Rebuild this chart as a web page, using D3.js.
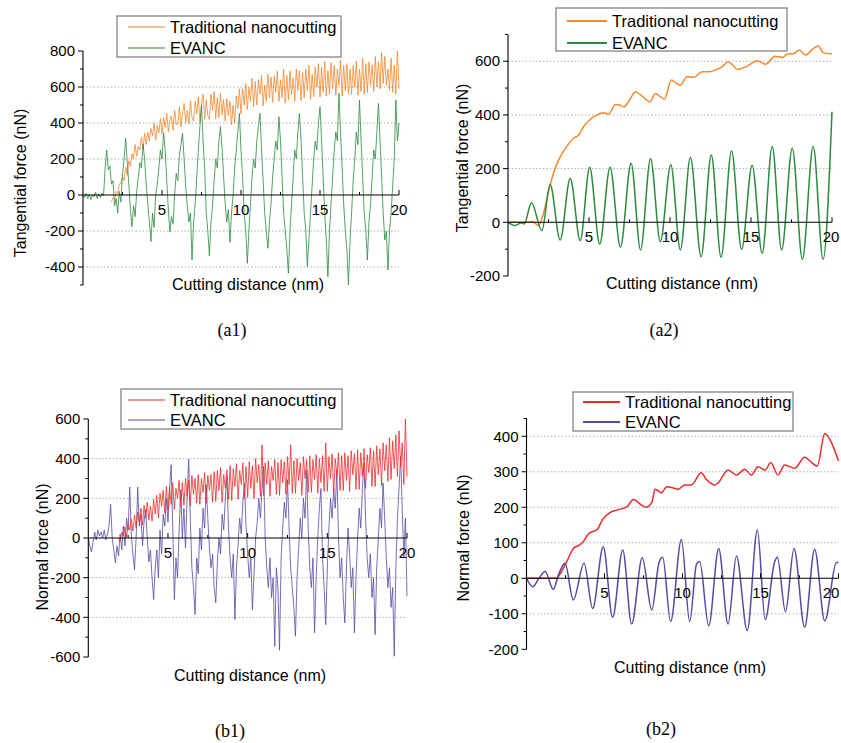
<!DOCTYPE html>
<html>
<head>
<meta charset="utf-8">
<script src="https://cdn.jsdelivr.net/npm/d3@7"></script>
<style>
  body { margin: 0; background: #fff; }
  svg { display: block; font-family: "Liberation Sans", Arial, sans-serif; }
</style>
</head>
<body>
<script>
// ---- (a1) raw tangential force, sampled every 0.1 nm ----
const a1TradStart = 1.8;
const a1Trad = [-40, -15,
  -25, 20, 5, 60, 65, 100, 80, 155, 110, 190,
  160, 230, 200, 280, 215, 270, 250, 320, 255, 345,
  280, 350, 300, 370, 330, 400, 305, 385, 345, 425,
  340, 430, 375, 455, 350, 420, 440, 360, 470, 390,
  395, 490, 380, 455, 510, 400, 470, 395, 525, 430,
  410, 520, 450, 545, 405, 500, 560, 420, 530, 440,
  420, 560, 470, 575, 425, 540, 430, 565, 445, 530,
  410, 535, 440, 520, 390, 500, 400, 550, 480, 590,
  450, 590, 500, 620, 475, 600, 520, 650, 490, 630,
  500, 640, 560, 665, 495, 610, 520, 670, 540, 655,
  515, 660, 570, 690, 520, 640, 540, 700, 510, 665,
  530, 690, 560, 650, 520, 700, 580, 690, 525, 680,
  540, 700, 580, 720, 530, 670, 545, 710, 600, 730,
  545, 710, 570, 740, 550, 690, 560, 735, 590, 720,
  555, 700, 610, 750, 550, 720, 580, 730, 560, 700,
  560, 720, 600, 745, 555, 700, 575, 760, 560, 730,
  570, 740, 610, 720, 575, 770, 600, 740, 590, 790,
  620, 770, 610, 700, 580, 760, 570, 720, 560, 800,
  590];
const a1Evanc = [
  0, -15, 10, -20, 5, -25, 0, -10, 15, -20,
  5, -15, 10, -5, 150, 250, 140, 160, 60, 80,
  -60, -20, -100, 20, -40, 120, 200, 315, 180, 60,
  -80, -176, -60, -120, 20, 100, 180, 150, 283, 200,
  60, -50, -150, -259, -100, -180, 0, 60, 150, 250,
  200, 346, 250, 80, -80, -204, -120, -160, 0, 120,
  80, 220, 280, 343, 200, 50, -60, -150, -100, -361,
  -150, -50, 100, 250, 380, 500, 300, 150, -100, -200,
  -339, -150, -60, 80, 200, 150, 300, 380, 260, 100,
  -50, -150, -80, -263, -100, 0, 150, 250, 350, 454,
  250, 100, -100, -200, -380, -200, -50, 100, 200, 150,
  300, 380, 454, 250, 80, -100, -200, -296, -150, -50,
  100, 200, 300, 250, 435, 300, 100, -100, -200, -300,
  -435, -200, -50, 100, 250, 200, 350, 454, 300, 100,
  -100, -200, -398, -250, -100, 50, 200, 300, 250, 400,
  491, 300, 100, -100, -250, -454, -200, -50, 100, 250,
  350, 300, 565, 350, 150, -50, -200, -300, -500, -250,
  -100, 80, 200, 350, 280, 528, 300, 100, -100, -200,
  -361, -150, -50, 100, 250, 200, 350, 509, 300, 100,
  -100, -250, -200, -417, -200, -100, 50, 200, 528, 300,
  400];

// ---- (a2) filtered tangential force: distance / force pairs ----
const a2TradX = [0, 1.2, 1.5, 1.88, 2.19, 2.6, 2.91, 3.22, 3.64, 4.05, 4.36, 4.66, 5.04, 5.49, 5.9, 6.21, 6.63, 6.9, 7.15, 7.46, 7.87, 8.28, 8.75, 9.11, 9.42, 9.66, 10.08, 10.3, 10.64, 11.05, 11.46, 11.98, 12.4, 12.8, 13.22, 13.59, 13.8, 14.15, 14.77, 15.39, 15.9, 16.48, 16.94, 17.25, 17.66, 17.97, 18.38, 18.8, 19.16, 19.45, 20];
const a2TradY = [0, 0, 3, -12, 33, 138, 201, 244, 284, 313, 325, 356, 381, 400, 408, 403, 439, 437, 430, 452, 486, 470, 449, 480, 467, 459, 530, 522, 511, 542, 540, 561, 561, 567, 580, 598, 590, 570, 582, 602, 589, 619, 614, 627, 629, 642, 623, 645, 657, 632, 627];
const a2EvancX = [0, 0.43, 0.85, 1.0, 1.45, 2.09, 2.6, 3.22, 3.84, 4.46, 5.04, 5.66, 6.3, 6.94, 7.6, 8.18, 8.8, 9.4, 10.05, 10.64, 11.26, 11.92, 12.55, 13.15, 13.8, 14.42, 15.07, 15.69, 16.31, 16.89, 17.55, 18.17, 18.84, 19.45, 20];
const a2EvancY = [0, -12, -2, -6, 73, -31, 141, -66, 164, -68, 205, -81, 205, -93, 220, -103, 238, -72, 214, -103, 241, -128, 251, -130, 266, -101, 213, -116, 282, -103, 276, -138, 282, -138, 412];

// ---- (b1) raw normal force, sampled every 0.1 nm ----
const b1TradStart = 1.9;
const b1Trad = [0,
  -15, 30, 10, 55, 5, 70, 40, 95, 35, 115,
  50, 130, 80, 150, 65, 165, 100, 180, 90, 160,
  85, 195, 120, 215, 100, 225, 160, 240, 125, 260,
  140, 255, 170, 280, 145, 250, 200, 290, 155, 280,
  165, 300, 210, 290, 160, 315, 220, 300, 175, 320,
  170, 300, 230, 330, 175, 315, 240, 320, 180, 335,
  185, 340, 240, 355, 180, 320, 250, 345, 195, 365,
  190, 350, 260, 375, 195, 340, 270, 380, 200, 360,
  205, 385, 250, 365, 200, 400, 280, 370, 210, 470,
  215, 380, 270, 390, 210, 360, 290, 395, 220, 380,
  215, 395, 280, 385, 220, 410, 270, 470, 225, 390,
  225, 400, 290, 380, 215, 410, 300, 395, 230, 415,
  230, 395, 295, 420, 225, 400, 280, 415, 235, 480,
  235, 410, 300, 425, 230, 400, 310, 430, 240, 415,
  240, 430, 290, 415, 235, 440, 320, 425, 245, 445,
  245, 430, 310, 450, 250, 420, 330, 455, 260, 440,
  260, 465, 320, 450, 265, 480, 340, 470, 285, 505,
  295, 490, 350, 520, 310, 540, 360, 480, 270, 600,
  310];
const b1Evanc = [
  0, -40, -70, -20, 30, -10, 40, 10, 30, 0,
  40, -10, 20, 60, 170, 0, -60, -126, -40, -90,
  20, -60, 60, -40, 100, 40, 257, 20, -80, -160,
  0, 257, 60, 120, -40, 80, 143, 0, -120, -60,
  -200, -310, -150, -60, -200, 40, -80, 120, 60, 200,
  80, 250, 370, 50, -310, -100, -200, 40, 243, 0,
  150, -50, 200, 398, 100, -150, -250, -386, -100, -180,
  50, -60, 150, 50, 269, 100, -50, -150, -80, -250,
  -327, -120, 0, -80, 120, 40, 200, 311, 50, -100,
  -200, -80, -411, -150, -30, 100, 20, 180, 277, 60,
  -80, -200, -100, -361, -180, 0, 80, 200, 100, 250,
  361, 0, -150, -250, -100, -300, -200, -546, -150, -250,
  -566, -100, 50, 180, 100, 294, 50, -150, -250, -350,
  -495, -200, -50, 100, 0, 200, 100, 344, 50, -150,
  -250, -100, -478, -200, 0, 150, 250, -100, -250, -437,
  -150, 50, 200, 100, 250, 150, 344, 0, -200, -100,
  -300, -428, -150, 50, -80, -250, -150, -478, -200, 0,
  150, 50, 250, 378, 100, -100, -200, -80, -300, -200,
  -487, -150, 0, 150, 50, 277, 100, -100, -250, -150,
  -350, -250, -596, -150, 100, 250, 411, 150, -100, 100,
  -294];

// ---- (b2) filtered normal force: distance / force pairs ----
const b2TradX = [0, 1.9, 2.15, 2.58, 3.0, 3.4, 3.64, 3.96, 4.54, 4.88, 5.35, 5.77, 6.2, 6.45, 6.85, 7.38, 7.65, 8.03, 8.24, 8.66, 8.99, 9.42, 9.74, 10.14, 10.57, 11.2, 11.52, 12.06, 12.27, 12.92, 13.46, 13.99, 14.42, 14.84, 15.31, 15.65, 16.12, 16.55, 17.2, 17.83, 18.15, 18.64, 19.12, 19.55, 20];
const b2TradY = [0, 0, 12, 47, 84, 94, 103, 125, 138, 166, 185, 192, 197, 202, 222, 206, 200, 213, 251, 241, 258, 254, 251, 263, 263, 297, 279, 263, 268, 305, 291, 307, 291, 314, 305, 326, 291, 319, 310, 341, 331, 316, 408, 382, 330];
const b2EvancX = [0, 0.4, 0.8, 1.19, 1.72, 2.05, 2.47, 3.0, 3.69, 4.24, 4.92, 5.52, 6.17, 6.74, 7.42, 8.03, 8.5, 8.73, 9.24, 9.93, 10.46, 10.9, 11.1, 11.68, 12.32, 12.92, 13.46, 14.15, 14.8, 15.3, 15.9, 16.08, 16.6, 17.15, 17.83, 18.47, 19.12, 19.86, 20];
const b2EvancY = [0, -24, 0, 19, -31, 10, 42, -61, 42, -85, 89, -110, 80, -129, 58, -89, 45, 59, -122, 109, -122, 40, 47, -134, 84, -129, 63, -147, 136, -116, 45, 59, -94, 84, -138, 82, -120, 44, 45];

const legendNames = ["Traditional nanocutting", "EVANC"];
const xTicks = [5, 10, 15, 20];

const orange = "#f6872d";
const green = "#2b8a3e";
const red = "#ee2b2b";
const purple = "#5c46a6";

const sampled = (start, vals) => vals.map((v, i) => [start + i * 0.1, v]);
const paired = (xs, ys) => xs.map((d, i) => [d, ys[i]]);

const W = 841;
const H = 743;

let svg = d3
  .select("body")
  .append("svg")
  .attr("width", W)
  .attr("height", H);

function drawPanel(p) {
  let x = d3.scaleLinear().domain([0, 20]).range([p.left, p.right]);
  let y = d3.scaleLinear().domain(p.yDomain).range([p.bottom, p.top]);
  let g = svg.append("g");
  const [lo, hi] = p.yDomain;

  let majors = d3.range(Math.ceil(lo / p.step) * p.step, hi + 1e-6, p.step);
  let minors = d3
    .range(Math.ceil(lo / p.minor) * p.minor, hi + 1e-6, p.minor)
    .filter((v) => Math.abs(v / p.step - Math.round(v / p.step)) > 1e-6);

  // dotted grid at the inner major ticks
  g.selectAll(".grid")
    .data(majors.filter((v) => v !== 0 && v !== lo && v !== hi))
    .enter()
    .append("line")
    .attr("x1", x(0))
    .attr("x2", x(20))
    .attr("y1", (d) => y(d))
    .attr("y2", (d) => y(d))
    .attr("stroke", "#9a9a9a")
    .attr("stroke-width", 0.8)
    .attr("stroke-dasharray", "1.5,2");

  let line = d3
    .line()
    .x((d) => x(d[0]))
    .y((d) => y(d[1]))
    .curve(p.curve);

  p.series.forEach((s) => {
    g.append("path")
      .attr("d", line(s.data))
      .attr("fill", "none")
      .attr("stroke", s.color)
      .attr("stroke-width", p.lineWidth)
      .attr("stroke-linejoin", "round");
  });

  // x axis along zero
  g.append("line")
    .attr("x1", x(0))
    .attr("x2", x(20))
    .attr("y1", y(0))
    .attr("y2", y(0))
    .attr("stroke", "#000")
    .attr("stroke-width", 1.1);
  g.selectAll(".xt")
    .data(d3.range(2.5, 20.01, 2.5))
    .enter()
    .append("line")
    .attr("x1", (d) => x(d))
    .attr("x2", (d) => x(d))
    .attr("y1", y(0))
    .attr("y2", (d) => y(0) - (d % 5 === 0 ? 5 : 3))
    .attr("stroke", "#000");
  // keep the last label inside the page
  g.selectAll(".xl")
    .data(xTicks)
    .enter()
    .append("text")
    .attr("x", (d) => Math.min(x(d), W - 10))
    .attr("y", y(0) + 20)
    .attr("text-anchor", "middle")
    .attr("font-size", 15)
    .text((d) => d);

  // y axis
  g.append("line")
    .attr("x1", x(0))
    .attr("x2", x(0))
    .attr("y1", y(lo))
    .attr("y2", y(hi))
    .attr("stroke", "#000")
    .attr("stroke-width", 1.1);
  g.selectAll(".ymaj")
    .data(majors)
    .enter()
    .append("line")
    .attr("x1", x(0) - 5)
    .attr("x2", x(0))
    .attr("y1", (d) => y(d))
    .attr("y2", (d) => y(d))
    .attr("stroke", "#000");
  g.selectAll(".ymin")
    .data(minors)
    .enter()
    .append("line")
    .attr("x1", x(0) - 3)
    .attr("x2", x(0))
    .attr("y1", (d) => y(d))
    .attr("y2", (d) => y(d))
    .attr("stroke", "#000");
  g.selectAll(".yl")
    .data(majors)
    .enter()
    .append("text")
    .attr("x", x(0) - 8)
    .attr("y", (d) => y(d))
    .attr("dy", "0.35em")
    .attr("text-anchor", "end")
    .attr("font-size", 15)
    .text((d) => d);

  g.append("text")
    .attr("transform", `translate(${p.yTitle[0]},${p.yTitle[1]}) rotate(-90)`)
    .attr("dy", "0.35em")
    .attr("text-anchor", "middle")
    .attr("font-size", 16)
    .text(p.yLabel);
  g.append("text")
    .attr("x", p.xTitle[0])
    .attr("y", p.xTitle[1])
    .attr("text-anchor", "middle")
    .attr("font-size", 16)
    .text("Cutting distance (nm)");

  // legend
  let lg = g.append("g");
  lg.append("rect")
    .attr("x", p.legend.x)
    .attr("y", p.legend.y)
    .attr("width", p.legend.w)
    .attr("height", p.legend.h)
    .attr("fill", "#fff")
    .attr("stroke", "#7a7a7a")
    .attr("stroke-width", 1.2);
  legendNames.forEach((name, i) => {
    let ry = p.legend.rows[i];
    lg.append("line")
      .attr("x1", p.legend.l1)
      .attr("x2", p.legend.l2)
      .attr("y1", ry)
      .attr("y2", ry)
      .attr("stroke", p.legendColors[i])
      .attr("stroke-width", p.legendWidth);
    lg.append("text")
      .attr("x", p.legend.tx)
      .attr("y", ry)
      .attr("dy", "0.36em")
      .attr("font-size", 16.5)
      .text(name);
  });

  svg.append("text")
    .attr("x", p.caption[0])
    .attr("y", p.caption[1])
    .attr("text-anchor", "middle")
    .attr("font-family", "'Liberation Serif', 'Times New Roman', serif")
    .attr("font-size", 18)
    .text(p.name);
}

drawPanel({
  name: "(a1)",
  left: 83, right: 399, top: 51, bottom: 285,
  yDomain: [-500, 800], step: 200, minor: 100,
  curve: d3.curveLinear, lineWidth: 0.8, legendWidth: 1.2,
  series: [
    { data: sampled(a1TradStart, a1Trad), color: orange },
    { data: sampled(0, a1Evanc), color: green },
  ],
  legendColors: [orange, green],
  yLabel: "Tangential force (nN)",
  yTitle: [20, 183], xTitle: [248, 290],
  legend: { x: 117, y: 16, w: 224, h: 41, l1: 128, l2: 165, tx: 170, rows: [27, 48] },
  caption: [232, 336],
});

drawPanel({
  name: "(a2)",
  left: 508, right: 832, top: 34.4, bottom: 276,
  yDomain: [-200, 700], step: 200, minor: 100,
  curve: d3.curveMonotoneX, lineWidth: 1.5, legendWidth: 1.8,
  series: [
    { data: paired(a2TradX, a2TradY), color: orange },
    { data: paired(a2EvancX, a2EvancY), color: green },
  ],
  legendColors: [orange, green],
  yLabel: "Tangential force (nN)",
  yTitle: [462, 158], xTitle: [682, 289],
  legend: { x: 556, y: 8, w: 231, h: 43, l1: 567, l2: 607, tx: 612, rows: [21, 43] },
  caption: [664, 336],
});

drawPanel({
  name: "(b1)",
  left: 88.3, right: 407, top: 419, bottom: 657,
  yDomain: [-600, 600], step: 200, minor: 100,
  curve: d3.curveLinear, lineWidth: 0.8, legendWidth: 1.2,
  series: [
    { data: sampled(0, b1Evanc), color: purple },
    { data: sampled(b1TradStart, b1Trad), color: red },
  ],
  legendColors: [red, purple],
  yLabel: "Normal force (nN)",
  yTitle: [42, 547], xTitle: [250, 681],
  legend: { x: 121, y: 389, w: 221, h: 40, l1: 128, l2: 165, tx: 170, rows: [400, 420] },
  caption: [230, 737],
});

drawPanel({
  name: "(b2)",
  left: 526.5, right: 838.5, top: 418.5, bottom: 649.3,
  yDomain: [-200, 450], step: 100, minor: 50,
  curve: d3.curveMonotoneX, lineWidth: 1.5, legendWidth: 1.8,
  series: [
    { data: paired(b2TradX, b2TradY), color: red },
    { data: paired(b2EvancX, b2EvancY), color: purple },
  ],
  legendColors: [red, purple],
  yLabel: "Normal force (nN)",
  yTitle: [463, 538], xTitle: [690, 673],
  legend: { x: 573, y: 392, w: 220, h: 39, l1: 583, l2: 620, tx: 625, rows: [402, 422] },
  caption: [661, 735],
});
</script>
</body>
</html>
